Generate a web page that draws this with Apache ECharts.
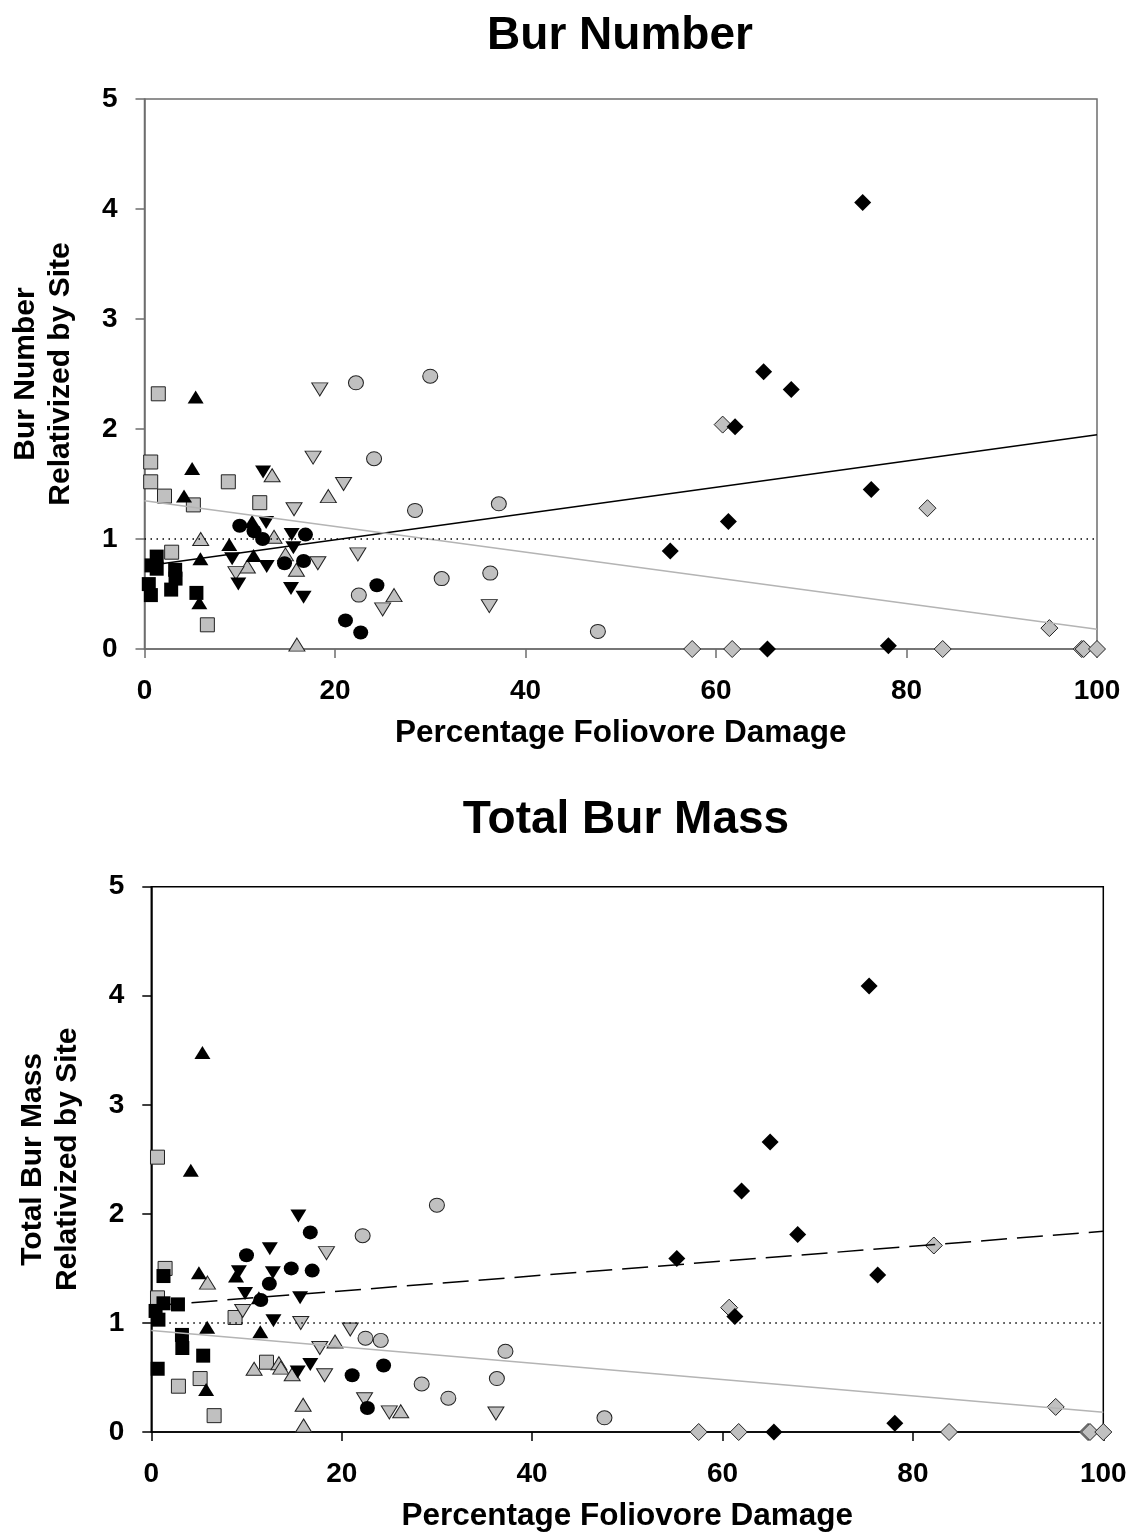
<!DOCTYPE html>
<html>
<head>
<meta charset="utf-8">
<script src="https://cdn.jsdelivr.net/npm/echarts@6/dist/echarts.min.js"></script>
<style>
html, body { margin: 0; padding: 0; background: #fff; }
#chart { width: 1130px; height: 1533px; }
</style>
</head>
<body>
<div id="chart"></div>
<script>
// percentage foliovore damage per plant, grouped by plot symbol
// *Number = bur number relativized by site, *Mass = total bur mass relativized by site
const graySquareDamage = [0.65, 0.65, 1.45, 2.1, 2.85, 5.13, 6.6, 8.8, 12.1]
const graySquareNumber = [1.70, 1.52, 2.32, 1.39, 0.88, 1.31, 0.22, 1.52, 1.33]
const graySquareMass = [2.52, 1.23, 1.50, null, 0.42, 0.49, 0.15, 1.05, 0.64]

const blackSquareDamage = [0.45, 0.75, 0.67, 1.28, 1.28, 2.8, 3.22, 3.26, 5.45]
const blackSquareNumber = [0.59, 0.76, 0.49, 0.84, 0.73, 0.54, 0.72, 0.64, 0.51]
const blackSquareMass = [1.11, 1.03, 0.58, 1.43, 1.18, 1.17, 0.89, 0.77, 0.70]

const grayUpDamage = [5.9, 10.8, 13.4, 13.6, 14.8, 15.95, 16.0, 19.3, 26.2]
const grayUpNumber = [1.00, 0.75, 1.58, 1.02, 0.86, 0.72, 0.04, 1.39, 0.49]
const grayUpMass = [1.37, 0.58, 0.63, 0.59, 0.53, 0.25, 0.06, 0.83, 0.19]

const blackUpDamage = [4.15, 5.0, 5.37, 5.76, 5.87, 8.9, 11.3, 11.45]
const blackUpNumber = [1.39, 1.64, 2.29, 0.42, 0.82, 0.95, 1.16, 0.85]
const blackUpMass = [2.40, 1.46, 3.48, 0.39, 0.96, 1.43, 1.23, 0.92]

const grayDownDamage = [9.6, 15.7, 17.7, 18.2, 18.4, 20.9, 22.4, 25.0, 36.2]
const grayDownNumber = [0.69, 1.27, 1.74, 0.78, 2.36, 1.50, 0.86, 0.36, 0.39]
const grayDownMass = [1.11, 1.00, 0.77, 0.52, 1.64, 0.94, 0.30, 0.18, 0.17]

const blackDownDamage = [9.2, 9.85, 12.45, 12.77, 12.83, 15.38, 15.45, 15.63, 16.7]
const blackDownNumber = [0.82, 0.59, 1.61, 1.15, 0.75, 0.55, 1.04, 0.92, 0.47]
const blackDownMass = [1.47, 1.27, 1.68, 1.46, 1.02, 0.55, 1.98, 1.23, 0.62]

const grayCircleDamage = [22.2, 22.5, 24.1, 28.4, 30.0, 31.2, 36.3, 37.2, 47.6]
const grayCircleNumber = [2.42, 0.49, 1.73, 1.26, 2.48, 0.64, 0.69, 1.32, 0.16]
const grayCircleMass = [1.80, 0.86, 0.84, 0.44, 2.08, 0.31, 0.49, 0.74, 0.13]

const blackCircleDamage = [10.0, 11.5, 12.4, 14.7, 16.7, 16.9, 21.1, 22.7, 24.4]
const blackCircleNumber = [1.12, 1.07, 1.00, 0.78, 0.80, 1.04, 0.26, 0.15, 0.58]
const blackCircleMass = [1.62, 1.21, 1.36, 1.50, 1.83, 1.48, 0.52, 0.22, 0.61]

const grayDiamondDamage = [57.5, 60.7, 61.7, 82.2, 83.8, 95.0, 98.4, 98.6, 100]
const grayDiamondNumber = [0, 2.04, 0, 1.28, 0, 0.19, 0, 0, 0]
const grayDiamondMass = [0, 1.14, 0, 1.71, 0, 0.23, 0, 0, 0]

const blackDiamondDamage = [55.2, 61.3, 62.0, 65.0, 65.4, 67.9, 75.4, 76.3, 78.1]
const blackDiamondNumber = [0.89, 1.16, 2.02, 2.52, 0, 2.36, 4.06, 1.45, 0.03]
const blackDiamondMass = [1.59, 1.06, 2.21, 2.66, 0, 1.81, 4.09, 1.44, 0.08]

// regression fits: [intercept, slope]
const numberFitBlack = [0.754, 0.01194]
const numberFitGray = [1.348, -0.01169]
const massFitBlack = [1.157, 0.00683]
const massFitGray = [0.930, -0.00748]
const fitRangeBlack = [0.45, 100]
const fitRangeGray = [0, 100]
const referenceLevel = 1

const xTicks = [0, 20, 40, 60, 80, 100]
const yTicks = [0, 1, 2, 3, 4, 5]

const FONT = '"Liberation Sans", Arial, sans-serif'
const GRAY = '#c0c0c0'

const groups = [
  { dmg: graySquareDamage, num: graySquareNumber, mass: graySquareMass, symbol: 'rect', size: [14, 14], gray: true },
  { dmg: blackSquareDamage, num: blackSquareNumber, mass: blackSquareMass, symbol: 'rect', size: [14, 14] },
  { dmg: grayUpDamage, num: grayUpNumber, mass: grayUpMass, symbol: 'triangle', size: [16, 13], gray: true },
  { dmg: blackUpDamage, num: blackUpNumber, mass: blackUpMass, symbol: 'triangle', size: [16, 13] },
  { dmg: grayDownDamage, num: grayDownNumber, mass: grayDownMass, symbol: 'triangle', size: [16, 13], rotate: 180, gray: true },
  { dmg: blackDownDamage, num: blackDownNumber, mass: blackDownMass, symbol: 'triangle', size: [16, 13], rotate: 180 },
  { dmg: grayCircleDamage, num: grayCircleNumber, mass: grayCircleMass, symbol: 'circle', size: [15, 14], gray: true },
  { dmg: blackCircleDamage, num: blackCircleNumber, mass: blackCircleMass, symbol: 'circle', size: [15, 14] },
  { dmg: grayDiamondDamage, num: grayDiamondNumber, mass: grayDiamondMass, symbol: 'diamond', size: [17, 17], gray: true },
  { dmg: blackDiamondDamage, num: blackDiamondNumber, mass: blackDiamondMass, symbol: 'diamond', size: [17, 17] }
]

function pairs(xs, ys) {
  let out = []
  xs.forEach((x, i) => {
    if (ys[i] !== null && ys[i] !== undefined) out.push([x, ys[i]])
  })
  return out
}

function fitLine(fit, range) {
  return range.map(x => [x, fit[0] + fit[1] * x])
}

function scatterSeries(idx, key) {
  return groups.map(g => ({
    type: 'scatter',
    xAxisIndex: idx,
    yAxisIndex: idx,
    symbol: g.symbol,
    symbolSize: g.size,
    symbolRotate: g.rotate || 0,
    clip: false,
    z: 3,
    itemStyle: g.gray
      ? { color: GRAY, borderColor: '#222', borderWidth: 1, opacity: 1 }
      : { color: '#000', borderWidth: 0, opacity: 1 },
    data: pairs(g.dmg, g[key])
  }))
}

function lineSeries(idx, fitBlack, fitGray, dashed) {
  return [{
    type: 'line', xAxisIndex: idx, yAxisIndex: idx, symbol: 'none', z: 4, silent: true,
    lineStyle: { color: '#000', width: 1.5, type: dashed ? [26, 10] : 'solid' },
    data: fitLine(fitBlack, fitRangeBlack)
  }, {
    type: 'line', xAxisIndex: idx, yAxisIndex: idx, symbol: 'none', z: 4, silent: true,
    lineStyle: { color: '#b4b4b4', width: 1.5 },
    data: fitLine(fitGray, fitRangeGray)
  }, {
    type: 'line', xAxisIndex: idx, yAxisIndex: idx, symbol: 'none', z: 4, silent: true,
    lineStyle: { color: '#000', width: 1.5, type: [1.5, 4.5] },
    data: [[xTicks[0], referenceLevel], [xTicks[xTicks.length - 1], referenceLevel]]
  }]
}

function xAxisFor(idx, color) {
  return {
    type: 'value', gridIndex: idx,
    min: xTicks[0], max: xTicks[xTicks.length - 1], interval: xTicks[1] - xTicks[0],
    name: 'Percentage Foliovore Damage', nameLocation: 'middle', nameGap: 68,
    nameTextStyle: { fontFamily: FONT, fontWeight: 'bold', fontSize: 31.5, color: '#000' },
    axisLine: { lineStyle: { color: color, width: 1.5 } },
    axisTick: { inside: false, length: 9, lineStyle: { color: color, width: 1.5 } },
    axisLabel: { margin: 28, fontFamily: FONT, fontWeight: 'bold', fontSize: 28, color: '#000' },
    splitLine: { show: false }
  }
}

function yAxisFor(idx, color, name) {
  return {
    type: 'value', gridIndex: idx,
    min: yTicks[0], max: yTicks[yTicks.length - 1], interval: yTicks[1] - yTicks[0],
    name: name, nameLocation: 'middle', nameGap: 66,
    nameTextStyle: { fontFamily: FONT, fontWeight: 'bold', fontSize: 30, lineHeight: 35, color: '#000', align: 'center' },
    axisLine: { lineStyle: { color: color, width: 1.5 } },
    axisTick: { inside: false, length: 9, lineStyle: { color: color, width: 1.5 } },
    axisLabel: { margin: 27, fontFamily: FONT, fontWeight: 'bold', fontSize: 28, color: '#000' },
    splitLine: { show: false }
  }
}

const chart = echarts.init(document.getElementById('chart'))
chart.setOption({
  animation: false,
  backgroundColor: '#fff',
  graphic: [
    { type: 'text', x: 620, y: 36, style: { text: 'Bur Number', font: 'bold 46px ' + FONT, fill: '#000', align: 'center', verticalAlign: 'middle' } },
    { type: 'text', x: 626, y: 820, style: { text: 'Total Bur Mass', font: 'bold 46px ' + FONT, fill: '#000', align: 'center', verticalAlign: 'middle' } }
  ],
  grid: [
    { left: 144.5, top: 99, width: 952.5, height: 550, show: true, borderColor: '#6e6e6e', borderWidth: 1.5, backgroundColor: 'transparent' },
    { left: 151.3, top: 886.7, width: 952, height: 550, show: true, borderColor: '#000', borderWidth: 1.5, backgroundColor: 'transparent' }
  ],
  xAxis: [xAxisFor(0, '#6e6e6e'), xAxisFor(1, '#000')],
  yAxis: [
    yAxisFor(0, '#6e6e6e', 'Bur Number\nRelativized by Site'),
    yAxisFor(1, '#000', 'Total Bur Mass\nRelativized by Site')
  ],
  series: [].concat(
    scatterSeries(0, 'num'),
    lineSeries(0, numberFitBlack, numberFitGray, false),
    scatterSeries(1, 'mass'),
    lineSeries(1, massFitBlack, massFitGray, true)
  )
})
</script>
</body>
</html>
